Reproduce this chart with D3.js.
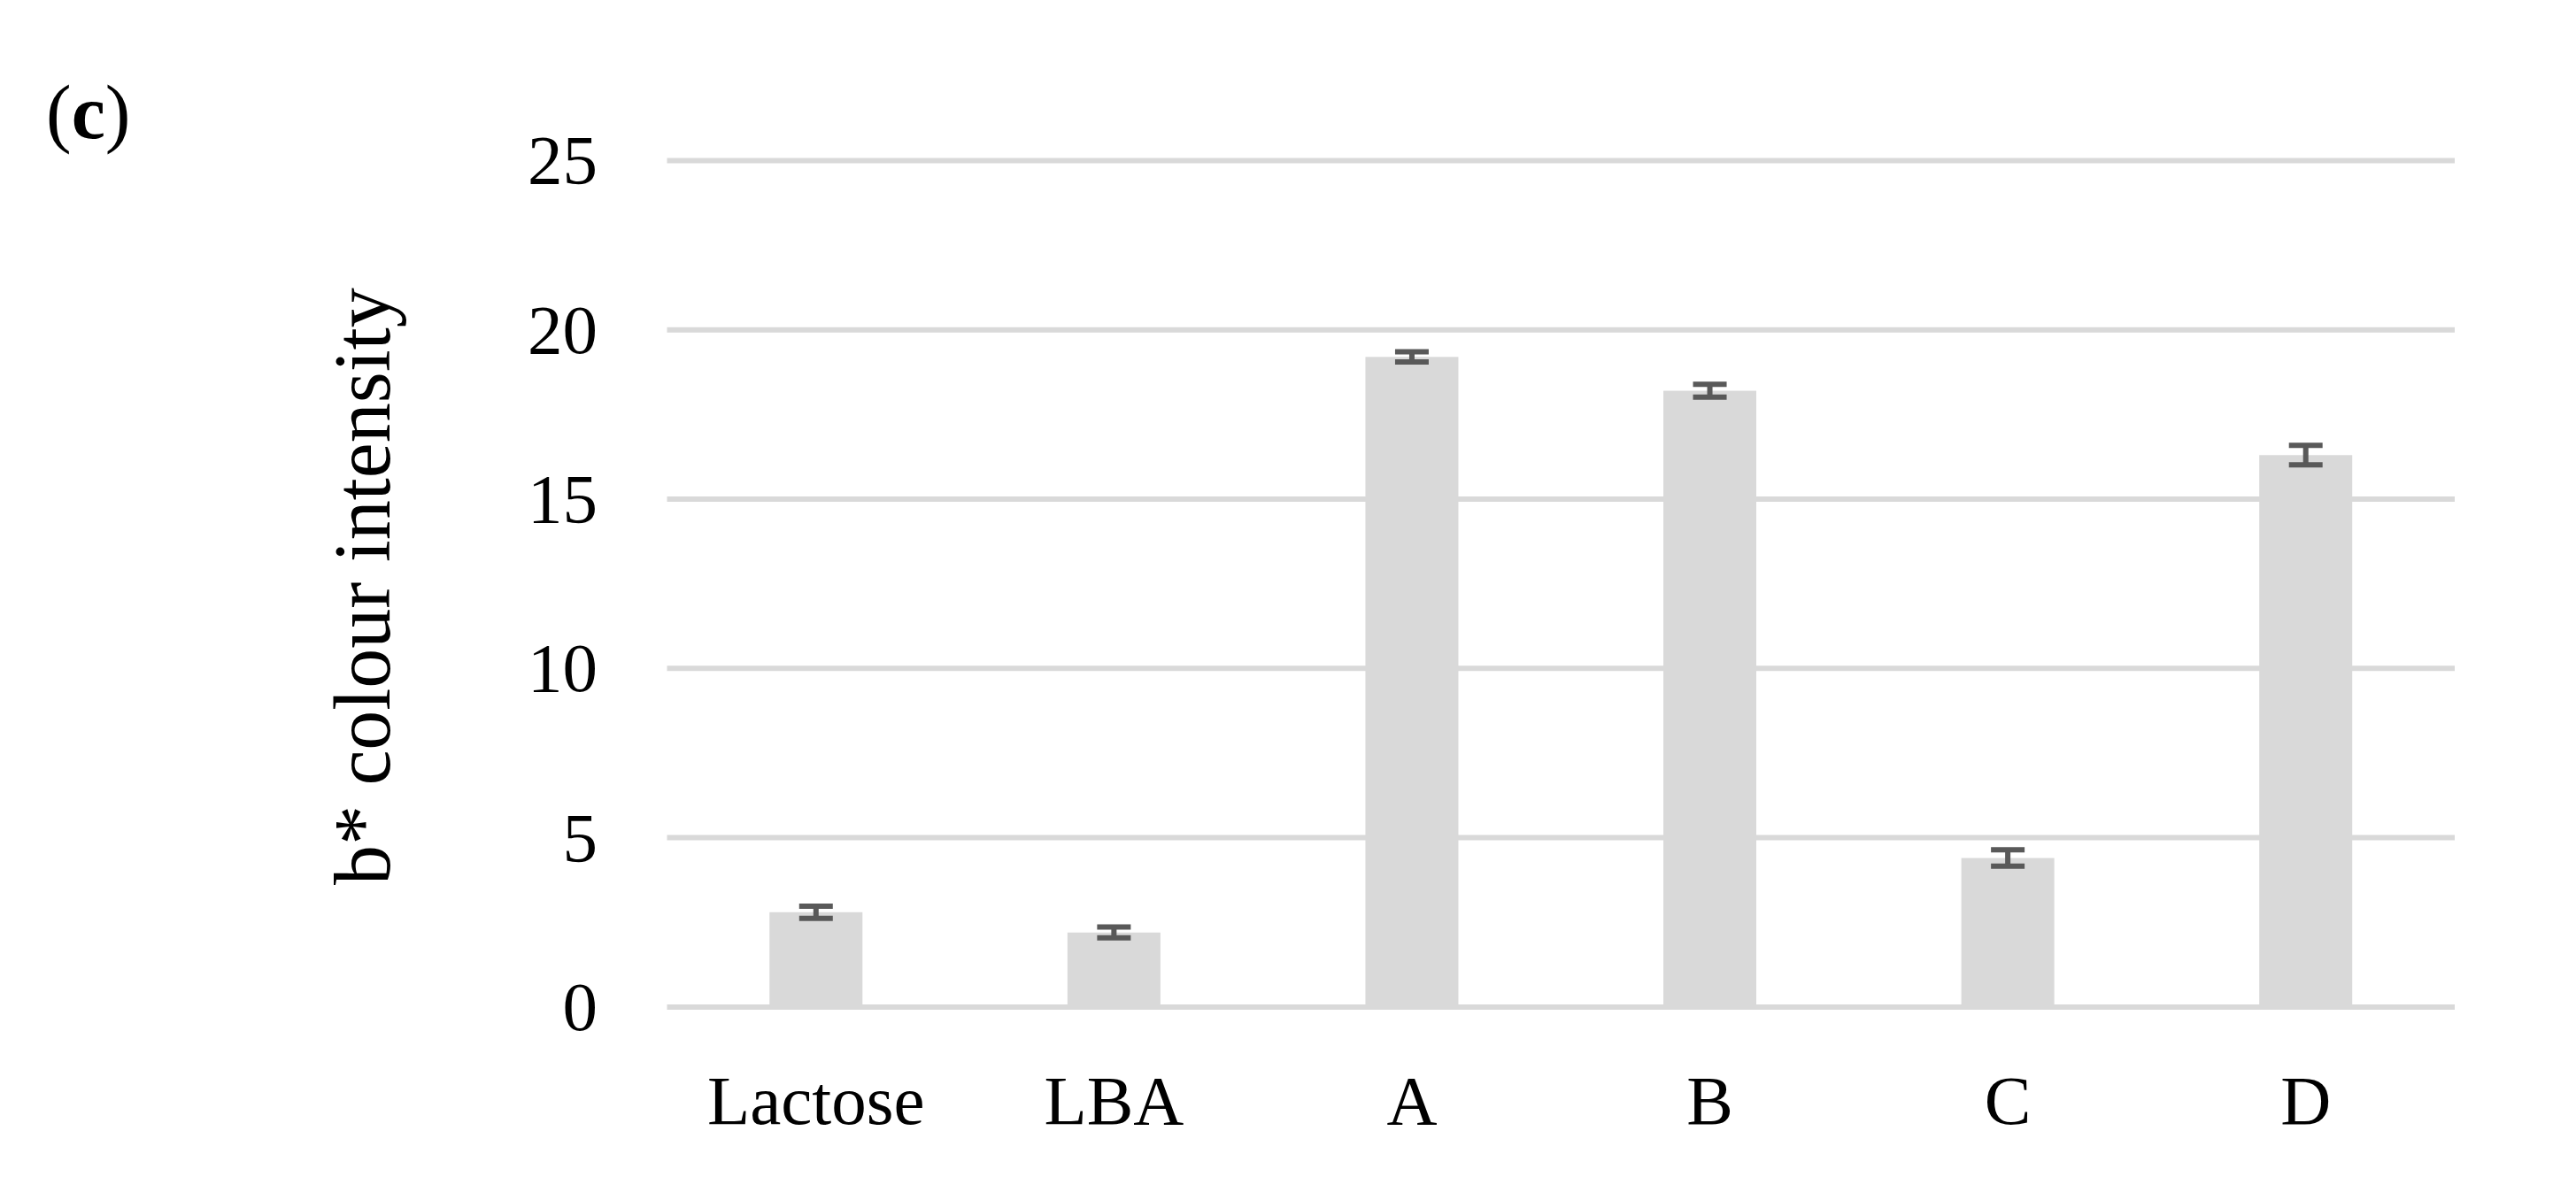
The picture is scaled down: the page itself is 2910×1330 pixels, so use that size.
<!DOCTYPE html>
<html>
<head>
<meta charset="utf-8">
<script src="https://cdn.jsdelivr.net/npm/d3@7/dist/d3.min.js"></script>
<style>
  html, body { margin: 0; padding: 0; background: #ffffff; }
  svg { display: block; }
  text { font-family: "Liberation Serif", "Times New Roman", serif; fill: #000; }
</style>
</head>
<body>
<svg id="chart" width="2910" height="1330"></svg>
<script>
const categories = ["Lactose", "LBA", "A", "B", "C", "D"];
const values = [2.8, 2.2, 19.2, 18.2, 4.4, 16.3];
const errors = [0.18, 0.16, 0.15, 0.19, 0.24, 0.29];
const yTicks = [0, 5, 10, 15, 20, 25];
const yTitle = "b* colour intensity";
const panelLabel = "c";

(function () {
const svg = d3.select("#chart");
const pLeft = 753.5, pRight = 2773, pTop = 181.4, pBottom = 1137.9;

const x = d3.scaleBand().domain(categories).range([pLeft, pRight]).paddingInner(0.688).paddingOuter(0.344);
const y = d3.scaleLinear().domain([0, 25]).range([pBottom, pTop]);

// gridlines
svg.append("g").selectAll("line").data(yTicks).join("line")
  .attr("x1", pLeft).attr("x2", pRight)
  .attr("y1", d => y(d)).attr("y2", d => y(d))
  .attr("stroke", "#d9d9d9").attr("stroke-width", 6);

// tick labels
svg.append("g").selectAll("text").data(yTicks).join("text")
  .attr("x", 675).attr("y", d => y(d) + 26)
  .attr("text-anchor", "end")
  .attr("font-size", 79)
  .text(d => d);

// bars
svg.append("g").selectAll("rect").data(categories).join("rect")
  .attr("x", d => x(d))
  .attr("width", x.bandwidth())
  .attr("y", (d, i) => y(values[i]))
  .attr("height", (d, i) => y(0) - y(values[i]))
  .attr("fill", "#d9d9d9");

// error bars
const eb = svg.append("g").attr("stroke", "#595959").attr("stroke-width", 6);
categories.forEach((c, i) => {
  const cx = x(c) + x.bandwidth() / 2;
  const hi = y(values[i] + errors[i]), lo = y(values[i] - errors[i]);
  eb.append("line").attr("x1", cx).attr("x2", cx).attr("y1", hi).attr("y2", lo);
  eb.append("line").attr("x1", cx - 19).attr("x2", cx + 19).attr("y1", hi).attr("y2", hi);
  eb.append("line").attr("x1", cx - 19).attr("x2", cx + 19).attr("y1", lo).attr("y2", lo);
});

// x labels
svg.append("g").selectAll("text").data(categories).join("text")
  .attr("x", d => x(d) + x.bandwidth() / 2)
  .attr("y", 1270)
  .attr("text-anchor", "middle")
  .attr("font-size", 79)
  .text(d => d);

// y title
svg.append("text")
  .attr("transform", `translate(440, ${(pTop + pBottom) / 2 + 3}) rotate(-90)`)
  .attr("text-anchor", "middle")
  .attr("font-size", 90)
  .text(yTitle);

// panel label
const pl = svg.append("text").attr("x", 52).attr("y", 156).attr("font-size", 86);
pl.append("tspan").text("(");
pl.append("tspan").attr("font-weight", "bold").text(panelLabel);
pl.append("tspan").text(")");
})();
</script>
</body>
</html>
